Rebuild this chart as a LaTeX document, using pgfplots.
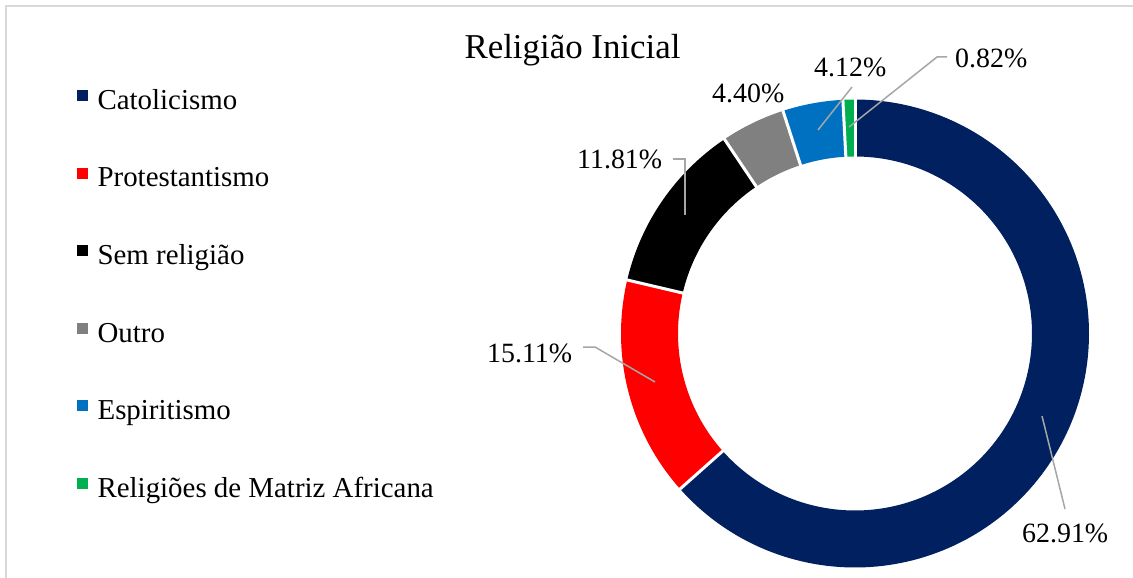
\documentclass[border=0pt]{standalone}
\usepackage{pgfplots}
\pgfplotsset{compat=1.18}
\usepackage{fontspec}
\setmainfont{Liberation Serif}

\definecolor{cNavy}{HTML}{002060}
\definecolor{cRed}{HTML}{FF0000}
\definecolor{cBlack}{HTML}{000000}
\definecolor{cGray}{HTML}{808080}
\definecolor{cBlue}{HTML}{0070C0}
\definecolor{cGreen}{HTML}{00B050}
\definecolor{cLead}{HTML}{A6A6A6}
\definecolor{cFrame}{HTML}{D9D9D9}

% data (percent)
\def\vA{62.91}% Catolicismo
\def\vB{15.11}% Protestantismo
\def\vC{11.81}% Sem religiao
\def\vD{4.40}%  Outro
\def\vE{4.12}%  Espiritismo
\def\vF{0.82}%  Religioes de Matriz Africana
\pgfmathsetmacro\tot{\vA+\vB+\vC+\vD+\vE+\vF}
\pgfmathsetmacro\aA{90}
\pgfmathsetmacro\aB{\aA-360*(\vA/\tot)}
\pgfmathsetmacro\aC{\aB-360*(\vB/\tot)}
\pgfmathsetmacro\aD{\aC-360*(\vC/\tot)}
\pgfmathsetmacro\aE{\aD-360*(\vD/\tot)}
\pgfmathsetmacro\aF{\aE-360*(\vE/\tot)}
\pgfmathsetmacro\aG{\aF-360*(\vF/\tot)}

\def\cx{855}
\def\cy{333.5}
\def\rmid{205.5}

\begin{document}
\begin{tikzpicture}
\begin{axis}[
  width=1133bp, height=578bp, scale only axis,
  xmin=0, xmax=1133, ymin=0, ymax=578, y dir=reverse,
  hide axis, clip=false,
  legend style={at={(axis cs:77,89)}, anchor=north west, draw=none, fill=none,
    inner sep=0pt, font=\fontsize{29}{34}\selectfont, row sep=50.6bp,
    nodes={inner sep=0pt, text height=20bp, text depth=7bp},
    /tikz/every odd column/.append style={column sep=10bp}},
  legend cell align=left,
  legend image code/.code={\fill[#1] (0bp,2.5bp) rectangle (10bp,12.5bp);},
]
% frame
\addplot[forget plot, cFrame, line width=1.5bp] coordinates {(6,578) (6,6) (1133,6)};

% ring segments
\addplot[forget plot, cNavy, line width=57bp, domain=\aB:\aA, samples=150] ({\cx+\rmid*cos(x)},{\cy-\rmid*sin(x)});
\addplot[forget plot, cRed, line width=57bp, domain=\aC:\aB, samples=60] ({\cx+\rmid*cos(x)},{\cy-\rmid*sin(x)});
\addplot[forget plot, cBlack, line width=57bp, domain=\aD:\aC, samples=50] ({\cx+\rmid*cos(x)},{\cy-\rmid*sin(x)});
\addplot[forget plot, cGray, line width=57bp, domain=\aE:\aD, samples=20] ({\cx+\rmid*cos(x)},{\cy-\rmid*sin(x)});
\addplot[forget plot, cBlue, line width=57bp, domain=\aF:\aE, samples=20] ({\cx+\rmid*cos(x)},{\cy-\rmid*sin(x)});
\addplot[forget plot, cGreen, line width=57bp, domain=\aG:\aF, samples=5] ({\cx+\rmid*cos(x)},{\cy-\rmid*sin(x)});

% white separators
\addplot[forget plot, white, line width=3bp, domain=170:242, samples=2] ({\cx+x*cos(\aA)},{\cy-x*sin(\aA)});
\addplot[forget plot, white, line width=3bp, domain=170:242, samples=2] ({\cx+x*cos(\aB)},{\cy-x*sin(\aB)});
\addplot[forget plot, white, line width=3bp, domain=170:242, samples=2] ({\cx+x*cos(\aC)},{\cy-x*sin(\aC)});
\addplot[forget plot, white, line width=3bp, domain=170:242, samples=2] ({\cx+x*cos(\aD)},{\cy-x*sin(\aD)});
\addplot[forget plot, white, line width=3bp, domain=170:242, samples=2] ({\cx+x*cos(\aE)},{\cy-x*sin(\aE)});
\addplot[forget plot, white, line width=3bp, domain=170:242, samples=2] ({\cx+x*cos(\aF)},{\cy-x*sin(\aF)});

% leader lines
\addplot[forget plot, cLead, line width=1.5bp] coordinates {(947,57) (937,57) (849,127)};
\addplot[forget plot, cLead, line width=1.5bp] coordinates {(852,87) (818,130)};
\addplot[forget plot, cLead, line width=1.5bp] coordinates {(673,159) (685,159) (685,215)};
\addplot[forget plot, cLead, line width=1.5bp] coordinates {(583,347) (595,347) (655,382)};
\addplot[forget plot, cLead, line width=1.5bp] coordinates {(1065,509) (1042,416)};

% data labels
\begin{scope}[every node/.style={inner sep=0pt, anchor=base west, font=\fontsize{28}{33}\selectfont}]
\node at (axis cs:955,68) {0.82\%};
\node at (axis cs:814,77) {4.12\%};
\node at (axis cs:712,102) {4.40\%};
\node at (axis cs:577,168) {11.81\%};
\node at (axis cs:487,362) {15.11\%};
\node at (axis cs:1022,542) {62.91\%};
\end{scope}

% title
\node[inner sep=0pt, anchor=base, font=\fontsize{35}{40}\selectfont] at (axis cs:572.5,59) {Religião Inicial};

% legend
\addlegendimage{cNavy}
\addlegendentry{Catolicismo}
\addlegendimage{cRed}
\addlegendentry{Protestantismo}
\addlegendimage{cBlack}
\addlegendentry{Sem religião}
\addlegendimage{cGray}
\addlegendentry{Outro}
\addlegendimage{cBlue}
\addlegendentry{Espiritismo}
\addlegendimage{cGreen}
\addlegendentry{Religiões de Matriz Africana}
\end{axis}
\pgfresetboundingbox
\path (current axis.south west) rectangle (current axis.north east);
\end{tikzpicture}
\end{document}
